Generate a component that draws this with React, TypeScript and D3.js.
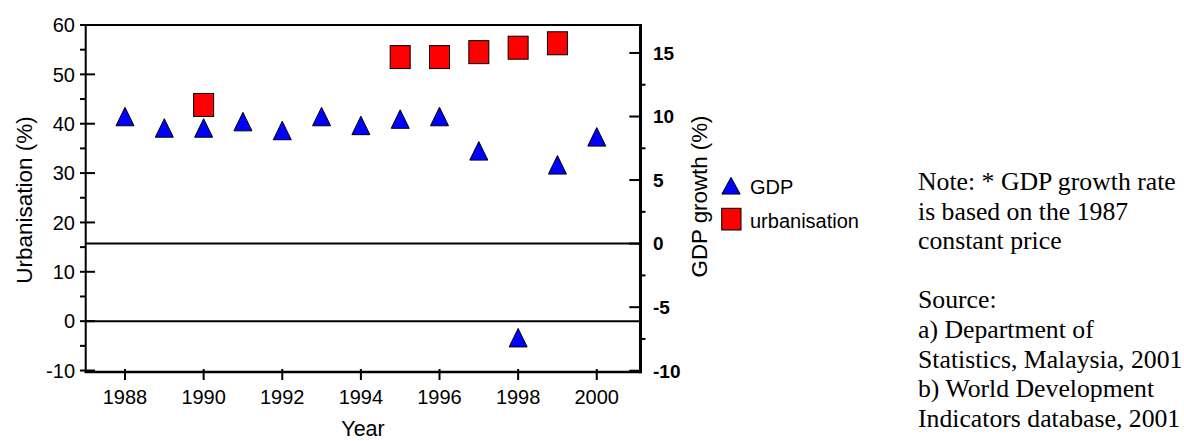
import React from 'react';
import * as d3 from 'd3';

const years = [1988, 1989, 1990, 1991, 1992, 1993, 1994, 1995, 1996, 1997, 1998, 1999, 2000];
const gdpGrowth = [10.0, 9.1, 9.1, 9.6, 8.9, 10.0, 9.3, 9.8, 10.0, 7.3, -7.4, 6.2, 8.4];
const urbanYears = [1990, 1995, 1996, 1997, 1998, 1999];
const urbanisation = [43.8, 53.5, 53.5, 54.5, 55.4, 56.3];

const xTicks = [1988, 1990, 1992, 1994, 1996, 1998, 2000];
const leftTicks = [-10, 0, 10, 20, 30, 40, 50, 60];
const leftMinor = [-5, 5, 15, 25, 35, 45, 55];
const rightTicks = [-10, -5, 0, 5, 10, 15];
const rightMinor = [-7.5, -2.5, 2.5, 7.5, 12.5];

const legendItems = ['GDP', 'urbanisation'];
const noteLines = [
  'Note: * GDP growth rate',
  'is based on the 1987',
  'constant price',
  '',
  'Source:',
  'a) Department of',
  'Statistics, Malaysia, 2001',
  'b) World Development',
  'Indicators database, 2001',
];

const SANS = "'Liberation Sans', Arial, Helvetica, sans-serif";
const SERIF = "'Liberation Serif', 'Times New Roman', serif";

const L = 85.7, R = 640, T = 25, B = 372;

const x = d3.scaleLinear().domain([1987, 2001.1]).range([L, R]);
const yL = d3.scaleLinear().domain([-10.3, 60]).range([B, T]);
const yR = d3.scaleLinear().domain([-10.1, 17.2]).range([B, T]);

const TW = 18, TH = 18.5;
const triPath = (cx: number, cy: number, w = TW, h = TH) =>
  `M${cx},${cy - h / 2}L${cx + w / 2},${cy + h / 2}L${cx - w / 2},${cy + h / 2}Z`;
const SW = 20, SH = 23;

export default function App() {
  return (
    <svg width={1184} height={441} style={{ position: 'absolute', left: 0, top: 0, display: 'block', background: '#fff' }}>
      <rect x={0} y={0} width={1184} height={441} fill="#fff" />
      {/* zero lines */}
      <line x1={L} x2={R} y1={yR(0)} y2={yR(0)} stroke="#000" strokeWidth={2} />
      <line x1={L} x2={R} y1={yL(0)} y2={yL(0)} stroke="#000" strokeWidth={2} />

      {/* frame */}
      <line x1={L} x2={R} y1={T} y2={T} stroke="#000" strokeWidth={2} />
      <line x1={L} x2={L} y1={T - 1} y2={B + 1} stroke="#000" strokeWidth={2} />
      <line x1={L - 1} x2={R + 1.5} y1={B} y2={B} stroke="#000" strokeWidth={2.5} />
      <line x1={R + 0.5} x2={R + 0.5} y1={T - 1} y2={B + 1.2} stroke="#000" strokeWidth={3} />

      {/* left ticks */}
      {leftTicks.map((v) => (
        <g key={'lt' + v}>
          <line x1={L - 5.7} x2={L + 9.3} y1={yL(v)} y2={yL(v)} stroke="#000" strokeWidth={2} />
          <text x={75} y={yL(v)} dy="0.36em" textAnchor="end" fontFamily={SANS} fontSize={20} fill="#000">{v}</text>
        </g>
      ))}
      {leftMinor.map((v) => (
        <line key={'lm' + v} x1={L - 5.7} x2={L} y1={yL(v)} y2={yL(v)} stroke="#000" strokeWidth={2} />
      ))}

      {/* right ticks */}
      {rightTicks.map((v) => (
        <g key={'rt' + v}>
          <line x1={R - 10.7} x2={R} y1={yR(v)} y2={yR(v)} stroke="#000" strokeWidth={2} />
          <text x={653} y={yR(v)} dy="0.36em" textAnchor="start" fontFamily={SANS} fontWeight="bold" fontSize={19} fill="#000">{v}</text>
        </g>
      ))}
      {rightMinor.map((v) => (
        <line key={'rm' + v} x1={R} x2={R + 5.5} y1={yR(v)} y2={yR(v)} stroke="#000" strokeWidth={2} />
      ))}

      {/* x ticks */}
      {xTicks.map((v) => (
        <g key={'xt' + v}>
          <line x1={x(v)} x2={x(v)} y1={B - 3} y2={B + 8} stroke="#000" strokeWidth={2} />
          <text x={x(v)} y={403.5} textAnchor="middle" fontFamily={SANS} fontSize={20} fill="#000">{v}</text>
        </g>
      ))}

      {/* axis titles */}
      <text x={363} y={436} textAnchor="middle" fontFamily={SANS} fontSize={21.5} fill="#000">Year</text>
      <text transform={`translate(32,200) rotate(-90)`} textAnchor="middle" fontFamily={SANS} fontSize={22.5} fill="#000">Urbanisation (%)</text>
      <text transform={`translate(707,196.5) rotate(-90)`} textAnchor="middle" fontFamily={SANS} fontSize={22.3} fill="#000">GDP growth (%)</text>

      {/* urbanisation squares */}
      {urbanYears.map((yr, i) => (
        <rect key={'u' + yr} x={x(yr) - SW / 2} y={yL(urbanisation[i]) - SH / 2} width={SW} height={SH}
          fill="#ff0000" stroke="#000" strokeWidth={1} />
      ))}

      {/* GDP triangles */}
      {years.map((yr, i) => (
        <path key={'g' + yr} d={triPath(x(yr), yR(gdpGrowth[i]))} fill="#0000ff" stroke="#000" strokeWidth={1} />
      ))}

      {/* legend */}
      <path d={triPath(731, 185.7, 18.3, 16.7)} fill="#0000ff" stroke="#000" strokeWidth={1} />
      <text x={750} y={194} fontFamily={SANS} fontSize={20} fill="#000">{legendItems[0]}</text>
      <rect x={721.7} y={208.3} width={19.3} height={21.7} fill="#ff0000" stroke="#000" strokeWidth={1} />
      <text x={750} y={227.7} fontFamily={SANS} fontSize={20} fill="#000">{legendItems[1]}</text>

      {/* note */}
      <g transform="translate(918,0) scale(1.03,1)">
        {noteLines.map((t, i) => (
          t ? <text key={'n' + i} x={0} y={190 + i * 29.6} fontFamily={SERIF} fontSize={25} fill="#000">{t}</text> : null
        ))}
      </g>
    </svg>
  );
}
